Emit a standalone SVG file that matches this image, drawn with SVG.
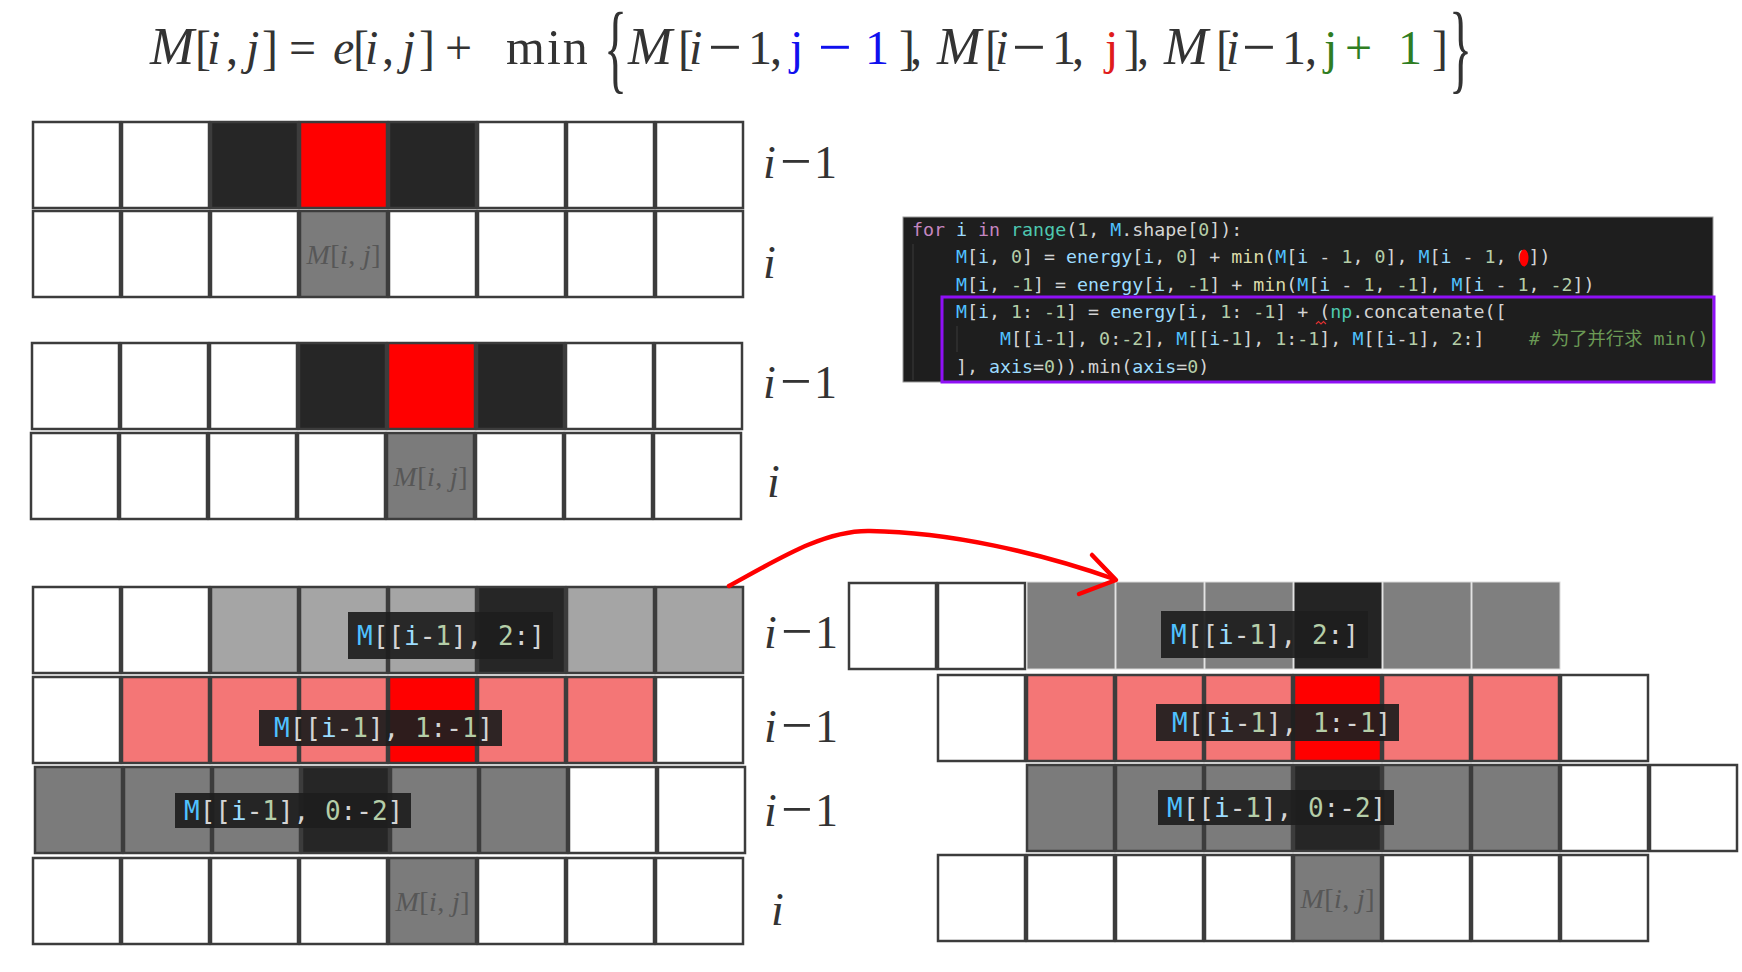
<svg xmlns="http://www.w3.org/2000/svg" width="1742" height="972" viewBox="0 0 1742 972">
<style>
.f{font-family:"Liberation Serif","Times New Roman",serif;fill:#333;font-size:48px}
.it{font-style:italic}
.bm{font-style:italic;font-size:53px}
.lab{font-family:"Liberation Serif","Times New Roman",serif;fill:#333;font-size:46px}
.cell{stroke:#3c3c3c;stroke-width:2.5}
.w{fill:#fff}.k{fill:#262626}.r{fill:#ff0000}.g{fill:#7b7b7b}.lg{fill:#a5a5a5}.p{fill:#f47676}
.flat{fill:#7f7f7f;stroke:#d9d9d9;stroke-width:1}
.kflat{fill:#242424;stroke:#d9d9d9;stroke-width:1}
.mij{font-family:"Liberation Serif","Times New Roman",serif;fill:#575757;font-size:28px}
.code{font-family:"DejaVu Sans Mono","Noto Sans CJK SC",monospace;font-size:18.3px;fill:#d4d4d4;white-space:pre}
.tag{font-family:"DejaVu Sans Mono",monospace;font-size:26px;fill:#d4d4d4;white-space:pre}
.tagbox{fill:#1e1e1e;fill-opacity:0.93}
.kw{fill:#c586c0}.v{fill:#9cdcfe}.fn{fill:#dcdcaa}.ty{fill:#4ec9b0}.n{fill:#b5cea8}.m{fill:#4fc1ff}.cm{fill:#6a9955}
</style>

<g id="formula">
<text class="f" y="64"><tspan x="150" class="bm">M</tspan><tspan x="195">[</tspan><tspan x="207" class="it">i</tspan><tspan x="226">,</tspan><tspan x="246" class="it">j</tspan><tspan x="262">]</tspan><tspan x="289">=</tspan><tspan x="333" class="it">e</tspan><tspan x="353">[</tspan><tspan x="365" class="it">i</tspan><tspan x="382">,</tspan><tspan x="402" class="it">j</tspan><tspan x="419">]</tspan><tspan x="445">+</tspan><tspan x="506" font-size="50" letter-spacing="2">min</tspan></text>
<text class="f" transform="translate(604,81) scale(1,2.05)">{</text>
<text class="f" y="64"><tspan x="628" class="bm">M</tspan><tspan x="678">[</tspan><tspan x="689" class="it">i</tspan><tspan x="708" y="67" font-size="60">−</tspan><tspan x="748" y="64">1</tspan><tspan x="770">,</tspan><tspan x="790" fill="#1010ee">j</tspan><tspan x="818" y="67" font-size="60" fill="#1010ee">−</tspan><tspan x="865" y="64" fill="#1010ee">1</tspan><tspan x="899">]</tspan><tspan x="910">,</tspan><tspan x="937" class="bm">M</tspan><tspan x="985">[</tspan><tspan x="995" class="it">i</tspan><tspan x="1012" y="67" font-size="60">−</tspan><tspan x="1052" y="64">1</tspan><tspan x="1072">,</tspan><tspan x="1105" fill="#e01c1c">j</tspan><tspan x="1124">]</tspan><tspan x="1137">,</tspan><tspan x="1164" class="bm">M</tspan><tspan x="1216">[</tspan><tspan x="1226" class="it">i</tspan><tspan x="1242" y="67" font-size="60">−</tspan><tspan x="1282" y="64">1</tspan><tspan x="1305">,</tspan><tspan x="1324" fill="#2f7d22">j</tspan><tspan x="1345" fill="#2f7d22">+</tspan><tspan x="1398" fill="#2f7d22">1</tspan><tspan x="1432">]</tspan></text>
<text class="f" transform="translate(1449,81) scale(1,2.05)">}</text>
</g>

<g id="grid-top">
<rect class="cell w" x="33" y="122" width="87" height="86"/>
<rect class="cell w" x="122" y="122" width="87" height="86"/>
<rect class="cell k" x="211" y="122" width="87" height="86"/>
<rect class="cell r" x="300" y="122" width="87" height="86"/>
<rect class="cell k" x="389" y="122" width="87" height="86"/>
<rect class="cell w" x="478" y="122" width="87" height="86"/>
<rect class="cell w" x="567" y="122" width="87" height="86"/>
<rect class="cell w" x="656" y="122" width="87" height="86"/>
<rect class="cell w" x="33" y="211" width="87" height="86"/>
<rect class="cell w" x="122" y="211" width="87" height="86"/>
<rect class="cell w" x="211" y="211" width="87" height="86"/>
<rect class="cell g" x="300" y="211" width="87" height="86"/>
<rect class="cell w" x="389" y="211" width="87" height="86"/>
<rect class="cell w" x="478" y="211" width="87" height="86"/>
<rect class="cell w" x="567" y="211" width="87" height="86"/>
<rect class="cell w" x="656" y="211" width="87" height="86"/>
<text class="mij" x="343.5" y="264" text-anchor="middle" textLength="74"><tspan class="it">M</tspan>[<tspan class="it">i</tspan>, <tspan class="it">j</tspan>]</text>
<text class="lab" y="178"><tspan x="763" class="it">i</tspan><tspan x="780" y="180" font-size="56">−</tspan><tspan x="814" y="178">1</tspan></text>
<text class="lab it" x="763" y="278">i</text>
</g>

<g id="grid-middle">
<rect class="cell w" x="32" y="343" width="87" height="86"/>
<rect class="cell w" x="121" y="343" width="87" height="86"/>
<rect class="cell w" x="210" y="343" width="87" height="86"/>
<rect class="cell k" x="299" y="343" width="87" height="86"/>
<rect class="cell r" x="388" y="343" width="87" height="86"/>
<rect class="cell k" x="477" y="343" width="87" height="86"/>
<rect class="cell w" x="566" y="343" width="87" height="86"/>
<rect class="cell w" x="655" y="343" width="87" height="86"/>
<rect class="cell w" x="31" y="433" width="87" height="86"/>
<rect class="cell w" x="120" y="433" width="87" height="86"/>
<rect class="cell w" x="209" y="433" width="87" height="86"/>
<rect class="cell w" x="298" y="433" width="87" height="86"/>
<rect class="cell g" x="387" y="433" width="87" height="86"/>
<rect class="cell w" x="476" y="433" width="87" height="86"/>
<rect class="cell w" x="565" y="433" width="87" height="86"/>
<rect class="cell w" x="654" y="433" width="87" height="86"/>
<text class="mij" x="430.5" y="486" text-anchor="middle" textLength="74"><tspan class="it">M</tspan>[<tspan class="it">i</tspan>, <tspan class="it">j</tspan>]</text>
<text class="lab" y="398"><tspan x="763" class="it">i</tspan><tspan x="780" y="400" font-size="56">−</tspan><tspan x="814" y="398">1</tspan></text>
<text class="lab it" x="767" y="497">i</text>
</g>

<g id="grid-bottom-left">
<rect class="cell w" x="33" y="587" width="87" height="86"/>
<rect class="cell w" x="122" y="587" width="87" height="86"/>
<rect class="cell lg" x="211" y="587" width="87" height="86"/>
<rect class="cell lg" x="300" y="587" width="87" height="86"/>
<rect class="cell lg" x="389" y="587" width="87" height="86"/>
<rect class="cell k" x="478" y="587" width="87" height="86"/>
<rect class="cell lg" x="567" y="587" width="87" height="86"/>
<rect class="cell lg" x="656" y="587" width="87" height="86"/>
<rect class="cell w" x="33" y="677" width="87" height="86"/>
<rect class="cell p" x="122" y="677" width="87" height="86"/>
<rect class="cell p" x="211" y="677" width="87" height="86"/>
<rect class="cell p" x="300" y="677" width="87" height="86"/>
<rect class="cell r" x="389" y="677" width="87" height="86"/>
<rect class="cell p" x="478" y="677" width="87" height="86"/>
<rect class="cell p" x="567" y="677" width="87" height="86"/>
<rect class="cell w" x="656" y="677" width="87" height="86"/>
<rect class="cell g" x="35" y="767" width="87" height="86"/>
<rect class="cell g" x="124" y="767" width="87" height="86"/>
<rect class="cell g" x="213" y="767" width="87" height="86"/>
<rect class="cell k" x="302" y="767" width="87" height="86"/>
<rect class="cell g" x="391" y="767" width="87" height="86"/>
<rect class="cell g" x="480" y="767" width="87" height="86"/>
<rect class="cell w" x="569" y="767" width="87" height="86"/>
<rect class="cell w" x="658" y="767" width="87" height="86"/>
<rect class="cell w" x="33" y="858" width="87" height="86"/>
<rect class="cell w" x="122" y="858" width="87" height="86"/>
<rect class="cell w" x="211" y="858" width="87" height="86"/>
<rect class="cell w" x="300" y="858" width="87" height="86"/>
<rect class="cell g" x="389" y="858" width="87" height="86"/>
<rect class="cell w" x="478" y="858" width="87" height="86"/>
<rect class="cell w" x="567" y="858" width="87" height="86"/>
<rect class="cell w" x="656" y="858" width="87" height="86"/>
<text class="mij" x="432.5" y="911" text-anchor="middle" textLength="74"><tspan class="it">M</tspan>[<tspan class="it">i</tspan>, <tspan class="it">j</tspan>]</text>
<text class="lab" y="648"><tspan x="764" class="it">i</tspan><tspan x="781" y="650" font-size="56">−</tspan><tspan x="815" y="648">1</tspan></text>
<text class="lab" y="742"><tspan x="764" class="it">i</tspan><tspan x="781" y="744" font-size="56">−</tspan><tspan x="815" y="742">1</tspan></text>
<text class="lab" y="826"><tspan x="764" class="it">i</tspan><tspan x="781" y="828" font-size="56">−</tspan><tspan x="815" y="826">1</tspan></text>
<text class="lab it" x="771" y="925">i</text>
</g>

<g id="grid-bottom-right">
<rect class="cell w" x="849" y="583" width="87" height="86"/>
<rect class="cell w" x="938" y="583" width="87" height="86"/>
<rect class="flat" x="1027" y="582" width="88" height="87"/>
<rect class="flat" x="1116" y="582" width="88" height="87"/>
<rect class="flat" x="1205" y="582" width="88" height="87"/>
<rect class="kflat" x="1294" y="582" width="88" height="87"/>
<rect class="flat" x="1383" y="582" width="88" height="87"/>
<rect class="flat" x="1472" y="582" width="88" height="87"/>
<rect class="cell w" x="938" y="675" width="87" height="86"/>
<rect class="cell p" x="1027" y="675" width="87" height="86"/>
<rect class="cell p" x="1116" y="675" width="87" height="86"/>
<rect class="cell p" x="1205" y="675" width="87" height="86"/>
<rect class="cell r" x="1294" y="675" width="87" height="86"/>
<rect class="cell p" x="1383" y="675" width="87" height="86"/>
<rect class="cell p" x="1472" y="675" width="87" height="86"/>
<rect class="cell w" x="1561" y="675" width="87" height="86"/>
<rect class="cell g" x="1027" y="765" width="87" height="86"/>
<rect class="cell g" x="1116" y="765" width="87" height="86"/>
<rect class="cell g" x="1205" y="765" width="87" height="86"/>
<rect class="cell k" x="1294" y="765" width="87" height="86"/>
<rect class="cell g" x="1383" y="765" width="87" height="86"/>
<rect class="cell g" x="1472" y="765" width="87" height="86"/>
<rect class="cell w" x="1561" y="765" width="87" height="86"/>
<rect class="cell w" x="1650" y="765" width="87" height="86"/>
<rect class="cell w" x="938" y="855" width="87" height="86"/>
<rect class="cell w" x="1027" y="855" width="87" height="86"/>
<rect class="cell w" x="1116" y="855" width="87" height="86"/>
<rect class="cell w" x="1205" y="855" width="87" height="86"/>
<rect class="cell g" x="1294" y="855" width="87" height="86"/>
<rect class="cell w" x="1383" y="855" width="87" height="86"/>
<rect class="cell w" x="1472" y="855" width="87" height="86"/>
<rect class="cell w" x="1561" y="855" width="87" height="86"/>
<text class="mij" x="1337.5" y="908" text-anchor="middle" textLength="74"><tspan class="it">M</tspan>[<tspan class="it">i</tspan>, <tspan class="it">j</tspan>]</text>
</g>

<g id="tag-bl-1"><rect class="tagbox" x="348" y="612" width="205" height="47"/><text class="tag" x="357" y="645"><tspan class="m">M</tspan>[[<tspan class="v">i</tspan>-<tspan class="n">1</tspan>], <tspan class="n">2</tspan>:]</text></g>
<g id="tag-bl-2"><rect class="tagbox" x="259" y="710" width="243" height="36"/><text class="tag" x="274" y="737"><tspan class="m">M</tspan>[[<tspan class="v">i</tspan>-<tspan class="n">1</tspan>], <tspan class="n">1</tspan>:-<tspan class="n">1</tspan>]</text></g>
<g id="tag-bl-3"><rect class="tagbox" x="175" y="793" width="236" height="35"/><text class="tag" x="184" y="820"><tspan class="m">M</tspan>[[<tspan class="v">i</tspan>-<tspan class="n">1</tspan>], <tspan class="n">0</tspan>:-<tspan class="n">2</tspan>]</text></g>
<g id="tag-br-1"><rect class="tagbox" x="1161" y="611" width="207" height="47"/><text class="tag" x="1171" y="644"><tspan class="m">M</tspan>[[<tspan class="v">i</tspan>-<tspan class="n">1</tspan>], <tspan class="n">2</tspan>:]</text></g>
<g id="tag-br-2"><rect class="tagbox" x="1156" y="704" width="243" height="37"/><text class="tag" x="1172" y="732"><tspan class="m">M</tspan>[[<tspan class="v">i</tspan>-<tspan class="n">1</tspan>], <tspan class="n">1</tspan>:-<tspan class="n">1</tspan>]</text></g>
<g id="tag-br-3"><rect class="tagbox" x="1158" y="790" width="236" height="35"/><text class="tag" x="1167" y="817"><tspan class="m">M</tspan>[[<tspan class="v">i</tspan>-<tspan class="n">1</tspan>], <tspan class="n">0</tspan>:-<tspan class="n">2</tspan>]</text></g>

<g id="code">
<rect x="903" y="217" width="810" height="165" fill="#1e1e1e" stroke="#9a9a9a" stroke-width="1"/>
<line x1="913" y1="244" x2="913" y2="380" stroke="#3a3a3a" stroke-width="1"/>
<line x1="957" y1="326" x2="957" y2="352" stroke="#3a3a3a" stroke-width="1"/>
<text class="code" xml:space="preserve" x="912" y="236"><tspan class="kw">for</tspan> <tspan class="v">i</tspan> <tspan class="kw">in</tspan> <tspan class="ty">range</tspan>(<tspan class="n">1</tspan>, <tspan class="m">M</tspan>.shape[<tspan class="n">0</tspan>]):</text>
<text class="code" xml:space="preserve" x="956" y="263"><tspan class="m">M</tspan>[<tspan class="v">i</tspan>, <tspan class="n">0</tspan>] = <tspan class="v">energy</tspan>[<tspan class="v">i</tspan>, <tspan class="n">0</tspan>] + <tspan class="fn">min</tspan>(<tspan class="m">M</tspan>[<tspan class="v">i</tspan> - <tspan class="n">1</tspan>, <tspan class="n">0</tspan>], <tspan class="m">M</tspan>[<tspan class="v">i</tspan> - <tspan class="n">1</tspan>, <tspan class="n">0</tspan>])</text>
<ellipse cx="1524" cy="258" rx="4.5" ry="8.5" fill="#ff0000"/>
<text class="code" xml:space="preserve" x="956" y="291"><tspan class="m">M</tspan>[<tspan class="v">i</tspan>, <tspan class="n">-1</tspan>] = <tspan class="v">energy</tspan>[<tspan class="v">i</tspan>, <tspan class="n">-1</tspan>] + <tspan class="fn">min</tspan>(<tspan class="m">M</tspan>[<tspan class="v">i</tspan> - <tspan class="n">1</tspan>, <tspan class="n">-1</tspan>], <tspan class="m">M</tspan>[<tspan class="v">i</tspan> - <tspan class="n">1</tspan>, <tspan class="n">-2</tspan>])</text>
<text class="code" xml:space="preserve" x="956" y="318"><tspan class="m">M</tspan>[<tspan class="v">i</tspan>, <tspan class="n">1</tspan>: <tspan class="n">-1</tspan>] = <tspan class="v">energy</tspan>[<tspan class="v">i</tspan>, <tspan class="n">1</tspan>: <tspan class="n">-1</tspan>] + (<tspan class="ty">np</tspan>.concatenate([</text>
<path d="M1316,324 l2.5,-2.5 l2.5,2.5 l2.5,-2.5 l2.5,2.5" fill="none" stroke="#e03030" stroke-width="1.2"/>
<text class="code" xml:space="preserve" x="1000" y="345"><tspan class="m">M</tspan>[[<tspan class="v">i</tspan>-<tspan class="n">1</tspan>], <tspan class="n">0</tspan>:<tspan class="n">-2</tspan>], <tspan class="m">M</tspan>[[<tspan class="v">i</tspan>-<tspan class="n">1</tspan>], <tspan class="n">1</tspan>:<tspan class="n">-1</tspan>], <tspan class="m">M</tspan>[[<tspan class="v">i</tspan>-<tspan class="n">1</tspan>], <tspan class="n">2</tspan>:]</text>
<text class="code cm" x="1529" y="345"># 为了并行求 min()</text>
<text class="code" xml:space="preserve" x="956" y="373">], <tspan class="v">axis</tspan>=<tspan class="n">0</tspan>)).min(<tspan class="v">axis</tspan>=<tspan class="n">0</tspan>)</text>
<rect x="942" y="297" width="772" height="85" fill="none" stroke="#8f10f5" stroke-width="3"/>
</g>

<g id="connectors">
<path d="M729,586 C780,558 825,530 870,531 C950,532 1040,553 1114,579" fill="none" stroke="#ff0000" stroke-width="4.5" stroke-linecap="round"/>
<polyline points="1092,555 1116,580 1079,594" fill="none" stroke="#ff0000" stroke-width="4.5" stroke-linecap="round" stroke-linejoin="round"/>
</g>
</svg>
